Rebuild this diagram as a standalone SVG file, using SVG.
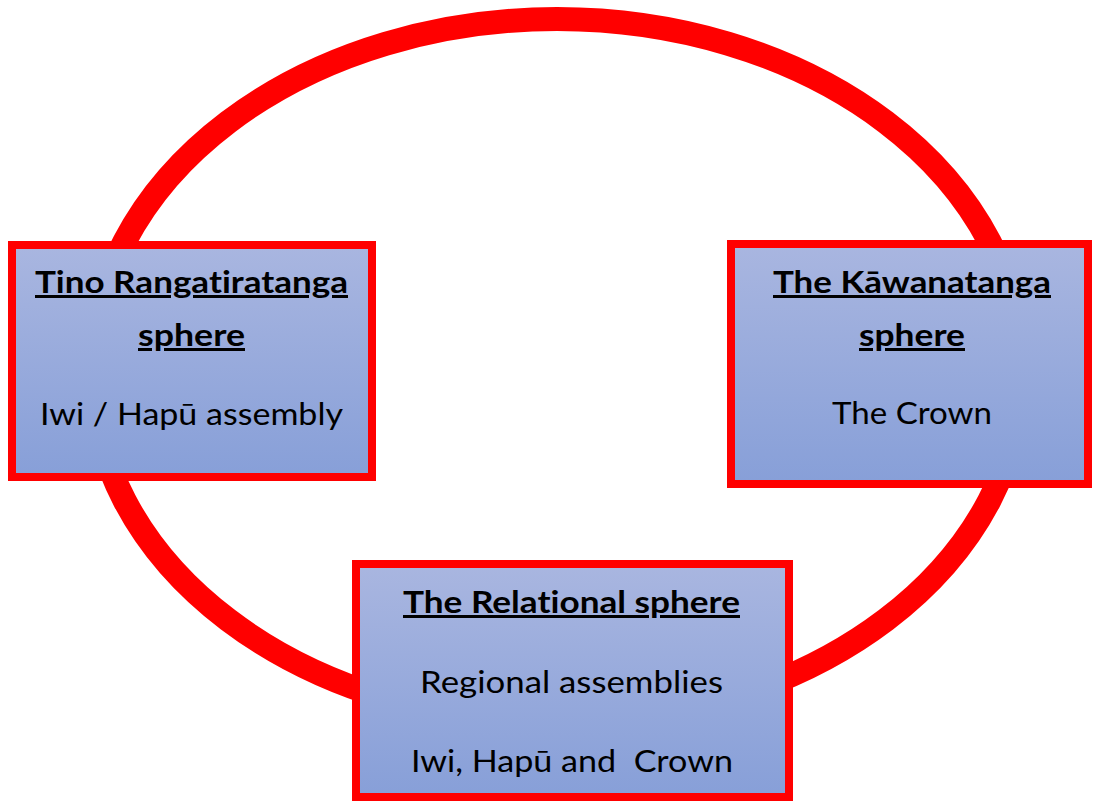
<svg xmlns="http://www.w3.org/2000/svg" width="1093" height="803" viewBox="0 0 1093 803">
<style>
.box{fill:url(#g);stroke:#ff0000;stroke-width:8}
.t{font-family:Lato,"Liberation Sans",sans-serif;font-size:30px;fill:#000;text-anchor:middle;font-variant-ligatures:none}
.b{font-weight:bold;text-decoration:underline}
</style>
<defs>
<linearGradient id="g" x1="0" y1="0" x2="0" y2="1">
<stop offset="0" stop-color="#a9b6e0"/>
<stop offset="1" stop-color="#879fd8"/>
</linearGradient>
</defs>
<rect width="1093" height="803" fill="#fff"/>
<g id="connectors">
<ellipse cx="557" cy="371" rx="465" ry="352" fill="none" stroke="#ff0000" stroke-width="24"/>
</g>
<g id="tino">
<rect class="box" x="12" y="245" width="360" height="232"/>
<text class="t b" x="191.5" y="293" textLength="313" lengthAdjust="spacingAndGlyphs">Tino Rangatiratanga</text>
<text class="t b" x="191.5" y="346" textLength="107" lengthAdjust="spacingAndGlyphs">sphere</text>
<text class="t" x="191.5" y="425" textLength="303" lengthAdjust="spacingAndGlyphs">Iwi / Hapū assembly</text>
</g>
<g id="kawanatanga">
<rect class="box" x="731" y="244" width="357" height="240"/>
<text class="t b" x="912" y="293" textLength="278" lengthAdjust="spacingAndGlyphs">The Kāwanatanga</text>
<text class="t b" x="912" y="346" textLength="106" lengthAdjust="spacingAndGlyphs">sphere</text>
<text class="t" x="912" y="424" textLength="160" lengthAdjust="spacingAndGlyphs">The Crown</text>
</g>
<g id="relational">
<rect class="box" x="356" y="564" width="433" height="233"/>
<text class="t b" x="571.5" y="613" textLength="337" lengthAdjust="spacingAndGlyphs">The Relational sphere</text>
<text class="t" x="571.5" y="693" textLength="303" lengthAdjust="spacingAndGlyphs">Regional assemblies</text>
<text class="t" x="572" y="772" textLength="322" lengthAdjust="spacingAndGlyphs" xml:space="preserve">Iwi, Hapū and  Crown</text>
</g>
</svg>
